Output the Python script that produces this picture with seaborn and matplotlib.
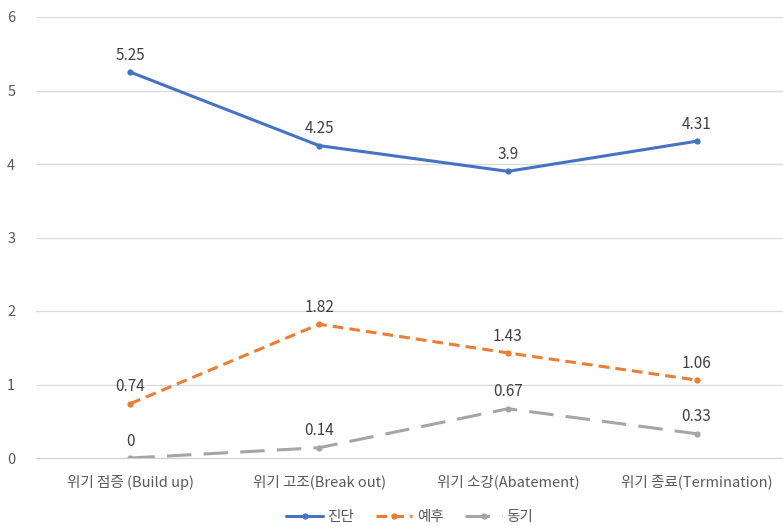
import matplotlib.pyplot as plt
import pandas as pd
import seaborn as sns

# data
stages = ['위기 점증 (Build up)', '위기 고조(Break out)', '위기 소강(Abatement)', '위기 종료(Termination)']
diagnosis = [5.25, 4.25, 3.9, 4.31]
prognosis = [0.74, 1.82, 1.43, 1.06]
motivation = [0, 0.14, 0.67, 0.33]
series_names = ['진단', '예후', '동기']

df = pd.DataFrame({
    'stage': stages * 3,
    'value': diagnosis + prognosis + motivation,
    'series': [s for s in series_names for _ in stages],
})

sns.set_style('white')
plt.rcParams['font.family'] = ['Noto Sans CJK KR', 'DejaVu Sans']

fig = plt.figure(figsize=(7.83, 5.26), dpi=100)
ax = fig.add_axes([36 / 783, (526 - 458) / 526, 755 / 783, 441 / 526])

colors = {'진단': '#4472C4', '예후': '#ED7D31', '동기': '#A5A5A5'}
dashes = {'진단': '', '예후': (3.5, 2), '동기': (8, 4)}

sns.lineplot(data=df, x='stage', y='value', hue='series', style='series',
             palette=colors, dashes=dashes, markers={'진단': 'o', '예후': 'o', '동기': 'o'},
             markersize=4.5, markeredgewidth=0, linewidth=2.2, sort=False, ax=ax)

for name, vals in zip(series_names, [diagnosis, prognosis, motivation]):
    for i, v in enumerate(vals):
        ax.annotate(f'{v:g}', (i, v), xytext=(0, 6), textcoords='offset points',
                    ha='center', va='bottom', fontsize=11, color='#404040')

ax.set_xlim(-0.5, 3.5)
ax.set_ylim(0, 6)
ax.set_yticks(range(0, 7))
ax.grid(axis='y', color='#D9D9D9', linewidth=0.9)
ax.set_axisbelow(True)
for s in ['top', 'right', 'left']:
    ax.spines[s].set_visible(False)
ax.spines['bottom'].set_color('#D0D0D0')
ax.tick_params(axis='both', length=0, labelsize=10.5, labelcolor='#595959', pad=12)
ax.tick_params(axis='y', pad=15)
ax.set_xlabel('')
ax.set_ylabel('')

leg = ax.legend(loc='center', bbox_to_anchor=(0.495, -0.134), ncol=3, frameon=False,
                fontsize=10.5, handlelength=2.5, columnspacing=1.5, handletextpad=0.3)
for t in leg.get_texts():
    t.set_color('#595959')

fig.savefig('out.png', dpi=100)
